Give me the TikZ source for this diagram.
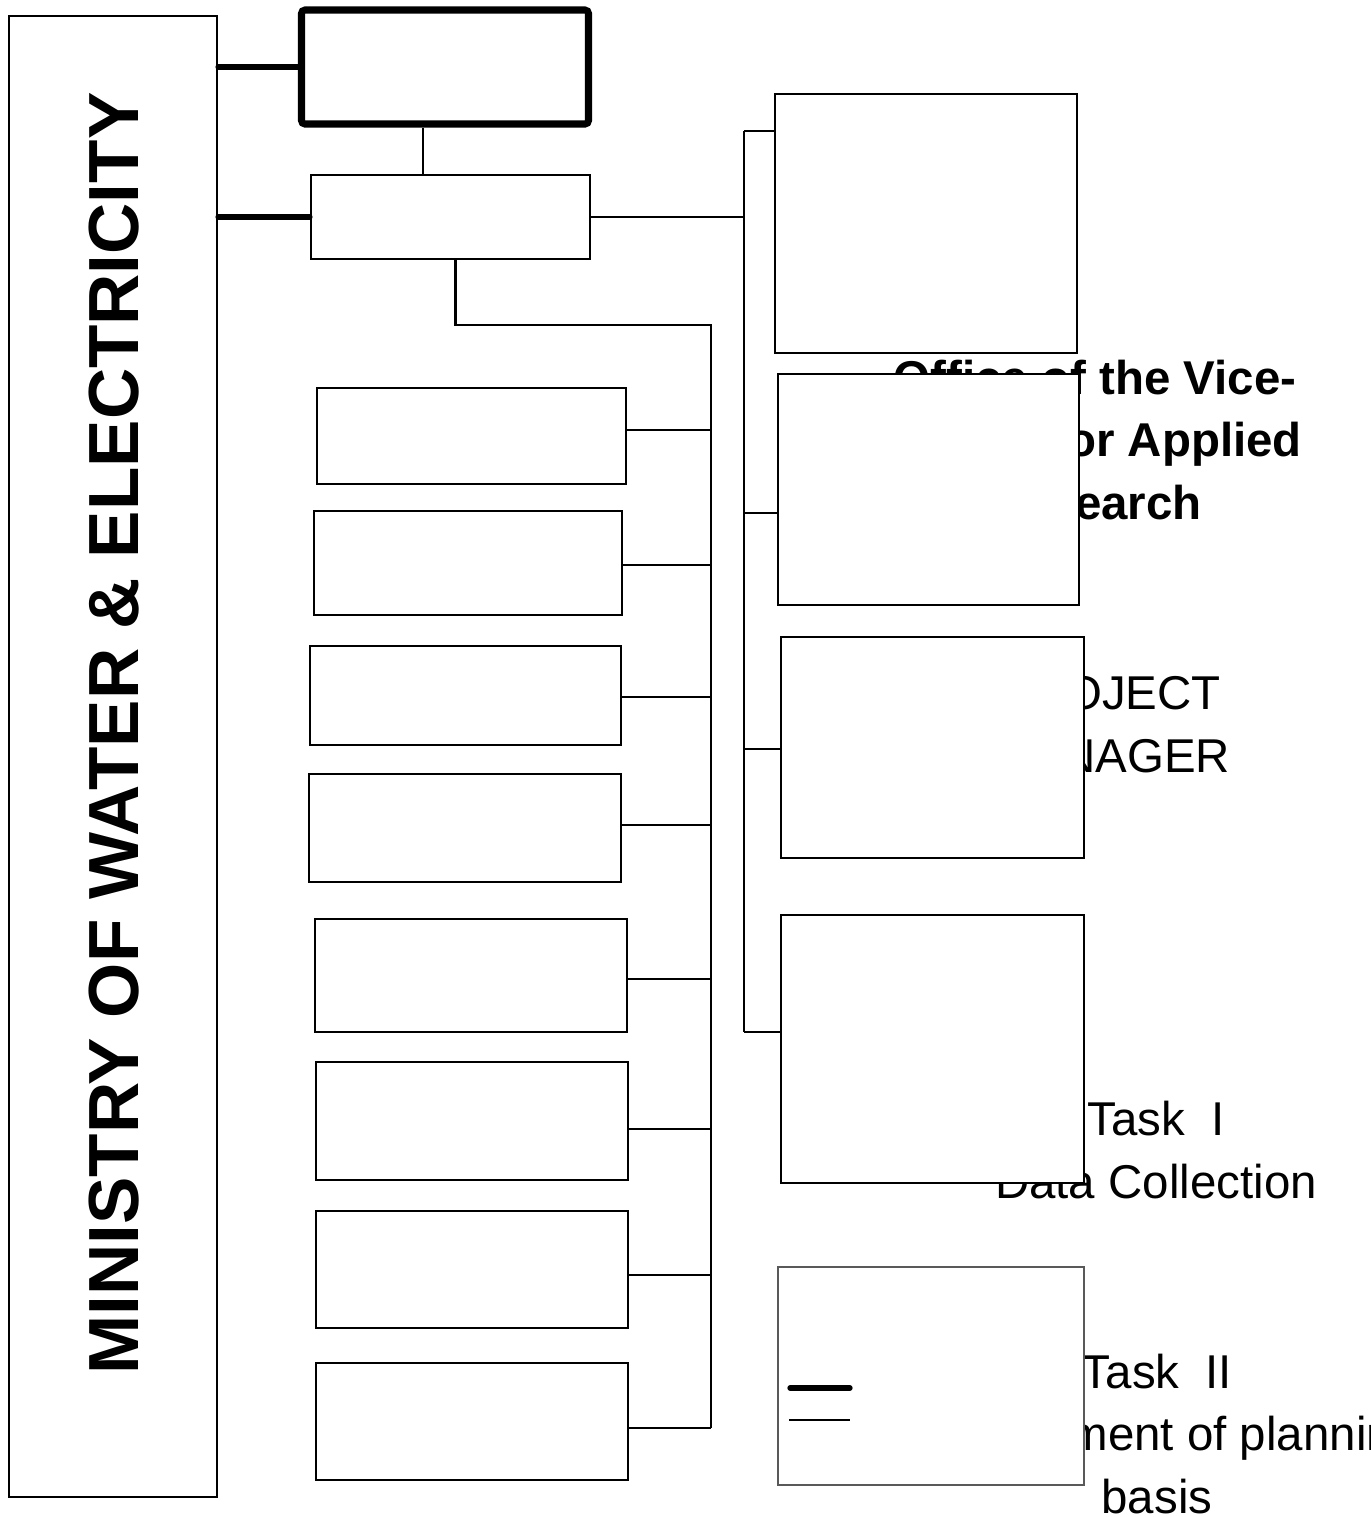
\documentclass[tikz,border=0pt]{standalone}
\usepackage{fontspec}
\setmainfont{Liberation Sans}
\usepackage{xcolor}
\usetikzlibrary{positioning}

\begin{document}
\begin{tikzpicture}[
  unit/.style={draw, line width=0.6pt, fill=white, inner sep=0pt},
  chairbox/.style={draw, line width=2pt, fill=white, rounded corners=1pt, inner sep=0pt},
  faint/.style={draw=black!65, line width=0.4pt, fill=white, inner sep=0pt},
  link/.style={line width=0.6pt},
  heavylink/.style={line width=1.5pt, line cap=round},
  tasktext/.style={align=center, font=\fontsize{13.5}{17.9}\selectfont},
  headtext/.style={align=center, font=\bfseries\fontsize{13.5}{17.9}\selectfont}
]
\useasboundingbox (0,0) rectangle (13.71,-15.17);

% Texts behind the boxes
\node[headtext] (vicetext) at (10.95,-4.40) {Office of the Vice-\\Rector for Applied\\Research};
\node[tasktext] (pmtext) at (11.10,-7.25) {PROJECT\\MANAGER};
\node[tasktext] (taskone) at (11.56,-11.50) {Task~~I\\Data Collection};
\node[tasktext] (tasktwo) at (11.57,-14.34) {Task~~II\\Development of planning\\basis};

% Ministry
\node[unit, minimum width=2.08cm, minimum height=14.81cm] (ministry) at (1.13,-7.565) {};
\node[rotate=90, font=\bfseries\fontsize{20.2}{24}\selectfont] (ministrytext) at (1.14,-7.335)
  {MINISTRY OF WATER \& ELECTRICITY};

% Top of the chart
\node[chairbox, minimum width=2.87cm, minimum height=1.14cm] (chair) at (4.45,-0.67) {};
\node[unit, minimum width=2.79cm, minimum height=0.84cm] (director) at (4.505,-2.17) {};
\draw[heavylink] (chair.west) -- (chair.west -| ministry.east);
\draw[heavylink] (director.west) -- (director.west -| ministry.east);
\draw[link] ([xshift=-0.22cm]chair.south) -- ([xshift=-0.22cm]chair.south |- director.north);

% Left column of units
\coordinate (trunkL) at (7.11,-3.25);
\coordinate (trunkLend) at (7.11,-14.28);
\draw[link] ([xshift=0.05cm]director.south) |- (trunkL) -- (trunkLend);
\foreach \i/\x/\y/\w/\h/\dy in {1/4.715/-4.36/3.09/0.96/0.06, 2/4.68/-5.63/3.08/1.04/-0.02,
    3/4.655/-6.955/3.11/0.99/-0.015, 4/4.65/-8.28/3.12/1.08/0.03, 5/4.71/-9.755/3.12/1.13/-0.035,
    6/4.72/-11.21/3.12/1.18/-0.08, 7/4.72/-12.695/3.12/1.17/-0.055, 8/4.72/-14.215/3.12/1.17/-0.065} {
  \node[unit, minimum width=\w cm, minimum height=\h cm] (u\i) at (\x,\y) {};
  \draw[link] ([yshift=\dy cm]u\i.east) -- ([yshift=\dy cm]u\i.east -| trunkL);
}

% Right column
\coordinate (trunkR) at (7.44,-1.31);
\coordinate (trunkRend) at (7.44,-10.32);
\draw[link] (director.east) -- (director.east -| trunkR);
\draw[link] (trunkR) -- (trunkRend);
\node[unit, minimum width=3.02cm, minimum height=2.59cm] (vice) at (9.26,-2.235) {};
\node[unit, minimum width=3.01cm, minimum height=2.31cm] (pm) at (9.285,-4.895) {};
\node[unit, minimum width=3.03cm, minimum height=2.21cm] (task) at (9.325,-7.475) {};
\node[unit, minimum width=3.03cm, minimum height=2.68cm] (data) at (9.325,-10.49) {};
\node[faint, minimum width=3.06cm, minimum height=2.18cm] (legend) at (9.31,-13.76) {};
\foreach \n/\dy in {vice/0.925, pm/-0.235, task/-0.015, data/0.17} {
  \draw[link] ([yshift=\dy cm]\n.west) -- ([yshift=\dy cm]\n.west -| trunkR);
}

% Key marks
\draw[heavylink] (7.90,-13.88) -- (8.50,-13.88);
\draw[line width=0.4pt] (7.89,-14.20) -- (8.50,-14.20);

\end{tikzpicture}
\end{document}
